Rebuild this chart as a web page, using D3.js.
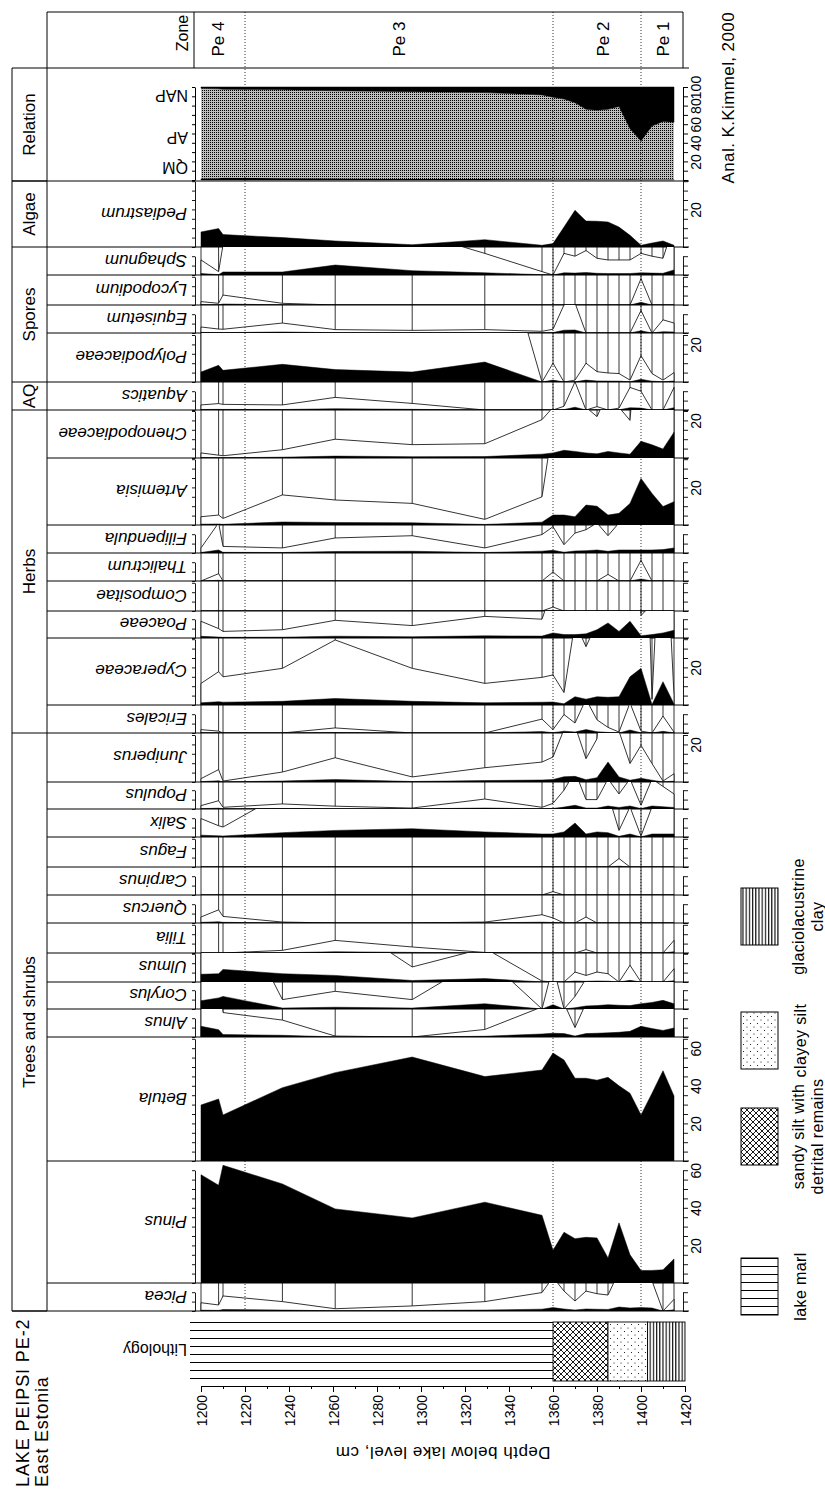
<!DOCTYPE html>
<html>
<head>
<meta charset="utf-8">
<script src="https://cdn.jsdelivr.net/npm/d3@7/dist/d3.min.js"></script>
<style>
  body { margin: 0; background: #fff; }
  text { font-family: "Liberation Sans", Arial, sans-serif; fill: #000; }
</style>
</head>
<body>
<div id="viz"></div>
<script>
var depths = [1200, 1208, 1210, 1237, 1261, 1296, 1329, 1355, 1360, 1365, 1370, 1375, 1380, 1385, 1390, 1395, 1400, 1405, 1410, 1415];

var relQM  = [1.5, 2, 2.5, 2, 1.5, 1, 1, 0.8, 0.6, 0.5, 0.5, 0.8, 0.5, 0.5, 0.5, 0.8, 0.5, 0.5, 0.5, 0.5],
    relAP  = [97.1, 96, 95, 95, 94.5, 94, 93, 90.7, 88.4, 86.5, 82.5, 75.2, 74.5, 75.5, 78.5, 54.2, 41.5, 57.5, 62.5, 61.5],
    relNAP = [1.4, 2, 2.5, 3, 4, 5, 6, 8.5, 11, 13, 17, 24, 25, 24, 21, 45, 58, 42, 37, 38];

var pediastrum     = [8, 9.8, 6.6, 5, 3.2, 1.2, 3.9, 0.9, 1.8, 10.6, 19.5, 13.8, 13.7, 13.3, 10.6, 6.2, 0.9, 2.1, 3.2, 0.9],
    sphagnum       = [0.8, 0.18, 1.6, 1.6, 5.3, 2.3, 1.15, 0.18, 0, 1.15, 1.0, 1.3, 0.89, 0.8, 0.8, 0.8, 1.15, 1.0, 0.89, 2.7],
    lycopodium     = [0.18, 0.09, 0.53, 0.09, 0, 0, 0, 0, 0, 0, 0, 0, 0, 0, 0, 0, 1.4, 0, 0, 0],
    equisetum      = [0.32, 0.21, 0.2, 0.53, 0.18, 0.14, 0.18, 0.09, 0.2, 1.5, 1.6, 0, 0, 0, 0, 0, 1.2, 0, 0.7, 0.53],
    polypodiaceae  = [5.3, 8.9, 6.2, 9.4, 6.6, 5.3, 10.6, 0, 1.0, 0, 0.1, 1.0, 0.55, 0.48, 0.45, 0.1, 1.4, 0.45, 0.1, 0.5],
    aquatics       = [0.27, 0.34, 0.3, 0.27, 0.67, 0.35, 0, 0, 0, 0.2, 1.5, 0, 0.18, 0, 0.1, 1.2, 1.0, 0, 0, 1.2],
    chenopodiaceae = [0.27, 0.15, 0.12, 0.44, 1.0, 0.71, 0.76, 2.04, 2.7, 4.1, 3.5, 2.7, 2.2, 3.5, 2.7, 2.0, 8.9, 7.0, 4.8, 13.7],
    artemisia      = [0.44, 0.53, 0.35, 1.6, 1.33, 1.15, 0.3, 1.5, 5.3, 5.3, 4.4, 10.6, 10.0, 5.3, 6.2, 11.5, 24.8, 16.8, 9.8, 12.4],
    filipendula    = [0.27, 1.6, 0.35, 0.27, 0.8, 0.92, 0.27, 0.98, 1.4, 0.44, 1.06, 1.24, 1.6, 0.92, 1.6, 1.6, 1.6, 1.6, 1.8, 2.7],
    thalictrum     = [0, 0.39, 0, 0, 0, 0, 0, 0, 0.48, 0, 0, 0, 0, 0.35, 0, 0, 1.1, 0, 0, 0],
    compositae     = [0, 0, 0, 0, 0, 0, 0, 0, 0.21, 0, 0, 0, 0, 0, 0, 0, 0, 0, 0, 0],
    poaceae        = [0.89, 0.5, 0.35, 0.44, 0.94, 0.66, 1.15, 1.0, 2.7, 1.8, 1.8, 2.2, 4.4, 8.0, 3.5, 8.9, 1.2, 1.8, 2.7, 4.1],
    cyperaceae     = [1.15, 1.77, 1.5, 1.95, 3.46, 1.95, 1.15, 1.47, 1.6, 0.66, 4.4, 3.1, 4.4, 4.1, 4.4, 15, 19.5, 0.3, 12.4, 0.5],
    ericales       = [0.18, 0.1, 0, 0, 0.27, 0, 0, 0.74, 0.18, 0.98, 0.53, 1.8, 0.7, 0.3, 0.05, 1.6, 0.1, 0, 0.9, 0.05],
    juniperus      = [0.18, 0.66, 0.05, 0.53, 1.29, 0.27, 0.76, 1.06, 1.33, 2.8, 3.0, 1.24, 2.3, 10.6, 2.7, 0.98, 1.95, 0.98, 0.05, 0.44],
    populus        = [0.18, 0.44, 0.09, 0.27, 0.15, 0.05, 0.53, 0.09, 0.3, 1.0, 2.0, 0.5, 0.5, 1.6, 0.8, 1.6, 0.2, 1.6, 1.2, 0.8],
    salix          = [0.98, 0.6, 0.53, 2.3, 3.5, 4.4, 2.7, 1.6, 1.6, 2.7, 7.4, 1.6, 2.7, 2.3, 0.35, 1.6, 0.05, 1.6, 1.6, 1.6],
    fagus          = [0, 0, 0, 0, 0, 0, 0, 0, 0, 0, 0, 0, 0, 0, 0.45, 0, 0, 0, 0, 0],
    carpinus       = [0, 0, 0, 0, 0, 0, 0, 0, 0.18, 0, 0, 0, 0, 0, 0, 0, 0, 0, 0, 0],
    quercus        = [0.32, 0.7, 0.35, 0.05, 0, 0, 0.05, 0.44, 0.27, 0, 0, 0.32, 0, 0, 0, 0, 0, 0, 0, 0],
    tilia          = [0, 0, 0, 0.14, 0.67, 0.32, 0.03, 0, 0, 0, 0, 0.18, 0, 0, 0, 0, 0, 0, 0, 0.67],
    ulmus          = [4.1, 4.4, 6.7, 4.4, 3.5, 0.8, 1.8, 0.05, 0, 0, 0.53, 0.35, 0.53, 0.44, 0, 0.89, 0, 0, 0, 0.7],
    corylus        = [4.4, 5.9, 6.7, 0.5, 0.94, 0.5, 2.8, 0, 2.3, 0, 0.67, 1.6, 1.8, 2.3, 2.0, 1.8, 2.8, 3.5, 4.6, 2.8],
    alnus          = [5.7, 3.9, 1.3, 0.9, 0.05, 0, 0.4, 1.6, 2.0, 1.8, 0.5, 1.8, 2.0, 2.2, 2.5, 3.0, 5.7, 4.5, 3.5, 4.8],
    betula         = [29.8, 33, 24.5, 39, 47, 55.3, 44.9, 48.4, 57.4, 53.7, 44, 44, 43, 44.5, 40, 36, 24.5, 36, 48, 34.6],
    pinus          = [57.6, 52, 62.6, 52.7, 39.4, 34.6, 43, 36, 17.4, 27, 23.6, 24.3, 24, 13.3, 32, 15, 6.6, 6.7, 7, 12.8],
    picea          = [0.44, 0.32, 0.8, 0.5, 0.12, 0.27, 0.5, 0.98, 1.8, 1.06, 0.53, 1.06, 0.92, 0.85, 2.1, 1.6, 1.8, 1.6, 0, 0.62];

var taxonNames = ['Pediastrum', 'Sphagnum', 'Lycopodium', 'Equisetum', 'Polypodiaceae', 'Aquatics',
                  'Chenopodiaceae', 'Artemisia', 'Filipendula', 'Thalictrum', 'Compositae', 'Poaceae',
                  'Cyperaceae', 'Ericales', 'Juniperus', 'Populus', 'Salix', 'Fagus', 'Carpinus', 'Quercus',
                  'Tilia', 'Ulmus', 'Corylus', 'Alnus', 'Betula', 'Pinus', 'Picea'];
var taxonValues = [pediastrum, sphagnum, lycopodium, equisetum, polypodiaceae, aquatics,
                   chenopodiaceae, artemisia, filipendula, thalictrum, compositae, poaceae,
                   cyperaceae, ericales, juniperus, populus, salix, fagus, carpinus, quercus,
                   tilia, ulmus, corylus, alnus, betula, pinus, picea];
var solidTaxa = ['Pediastrum', 'Betula', 'Pinus'];

var relationKeys = ['QM', 'AP', 'NAP'];
var groupNames = ['Relation', 'Algae', 'Spores', 'AQ', 'Herbs', 'Trees and shrubs'];
var zoneNames = ['Pe 4', 'Pe 3', 'Pe 2', 'Pe 1'];
var zoneLimits = [1198, 1220, 1360, 1400, 1420];
var zoneLabelAt = [1208, 1290, 1383, 1410];
var depthTicks = [1200, 1220, 1240, 1260, 1280, 1300, 1320, 1340, 1360, 1380, 1400, 1420];
var lithoTop = [1195, 1360, 1385, 1403],
    lithoBottom = [1360, 1385, 1403, 1420],
    lithoFill = ['marl', 'sand', 'silt', 'clay'];
var legendLabels = [['lake marl'], ['sandy silt with', 'detrital remains'], ['clayey silt'], ['glaciolacustrine', 'clay']];

// layout
var rowBase = [247, 275, 305, 333, 382, 410, 458, 525, 553, 581, 611, 638, 705, 733, 782, 809, 837, 867,
               895, 923, 953, 982, 1009, 1037, 1161, 1283, 1311];
var groupEnd = [181, 247, 382, 410, 733, 1311];
var legendTop = [1258, 1108, 1012, 888];
var pxPerPct = 1.88,
    axisLeftX = 195,
    axisRightX = 683;

var svg = d3.select('#viz').append('svg')
  .attr('width', 825)
  .attr('height', 1493);

var defs = svg.append('defs');

var stip = defs.append('pattern').attr('id', 'stip').attr('patternUnits', 'userSpaceOnUse')
  .attr('width', 2).attr('height', 2);
stip.append('rect').attr('width', 2).attr('height', 2).attr('fill', '#bdbdbd');
stip.append('rect').attr('width', 1).attr('height', 1).attr('fill', '#000');

var marl = defs.append('pattern').attr('id', 'marl').attr('patternUnits', 'userSpaceOnUse')
  .attr('width', 10).attr('height', 8).attr('y', 1322);
marl.append('rect').attr('width', 10).attr('height', 8).attr('fill', '#fff');
marl.append('line').attr('x1', 0).attr('x2', 10).attr('y1', 0.5).attr('y2', 0.5)
  .attr('stroke', '#000').attr('stroke-width', 1);

var sand = defs.append('pattern').attr('id', 'sand').attr('patternUnits', 'userSpaceOnUse')
  .attr('width', 6).attr('height', 6);
sand.append('rect').attr('width', 6).attr('height', 6).attr('fill', '#fff');
sand.append('path').attr('d', 'M0,3 L3,0 L6,3 L3,6 Z').attr('fill', 'none')
  .attr('stroke', '#000').attr('stroke-width', 0.9);

var silt = defs.append('pattern').attr('id', 'silt').attr('patternUnits', 'userSpaceOnUse')
  .attr('width', 7).attr('height', 7);
silt.append('rect').attr('width', 7).attr('height', 7).attr('fill', '#fff');
silt.append('circle').attr('cx', 1.5).attr('cy', 1.5).attr('r', 0.55).attr('fill', '#000');
silt.append('circle').attr('cx', 5).attr('cy', 5).attr('r', 0.55).attr('fill', '#000');

var clay = defs.append('pattern').attr('id', 'clay').attr('patternUnits', 'userSpaceOnUse')
  .attr('width', 3.2).attr('height', 10);
clay.append('rect').attr('width', 3.2).attr('height', 10).attr('fill', '#fff');
clay.append('line').attr('x1', 0.6).attr('x2', 0.6).attr('y1', 0).attr('y2', 10)
  .attr('stroke', '#000').attr('stroke-width', 1.1);

var x = d3.scaleLinear()
  .domain([1200, 1420])
  .range([201, 685]);

function hline(g, x1, x2, y) {
  g.append('line').attr('x1', x1).attr('x2', x2).attr('y1', y).attr('y2', y)
    .attr('stroke', '#000').attr('stroke-width', 1);
}
function vline(g, xx, y1, y2) {
  g.append('line').attr('x1', xx).attr('x2', xx).attr('y1', y1).attr('y2', y2)
    .attr('stroke', '#000').attr('stroke-width', 1);
}
function upText(g, xx, yy, txt, size, anchor) {
  return g.append('text')
    .attr('transform', 'translate(' + xx + ',' + yy + ') rotate(-90)')
    .style('font-size', size + 'px')
    .style('text-anchor', anchor || 'middle')
    .style('dominant-baseline', 'central')
    .text(txt);
}
function flipText(g, xx, yy, txt, size, italic) {
  return g.append('text')
    .attr('transform', 'translate(' + xx + ',' + yy + ') rotate(180)')
    .style('font-size', size + 'px')
    .style('font-style', italic ? 'italic' : 'normal')
    .style('dominant-baseline', 'central')
    .text(txt);
}
function styleRightLabels(sel) {
  sel.selectAll('text')
    .attr('x', null).attr('dy', null)
    .attr('transform', 'translate(13,0) rotate(-90)')
    .style('text-anchor', 'middle')
    .style('dominant-baseline', 'central')
    .style('font-size', '14px')
    .style('font-family', '"Liberation Sans", Arial, sans-serif');
}
function rowAxes(g, base, top, vmax, step, labelEvery) {
  var tickMax = Math.floor(vmax / step + 0.01) * step,
      ay = d3.scaleLinear().domain([0, tickMax]).range([base, base - (base - top) * tickMax / vmax]),
      ticks = d3.range(0, tickMax + 0.001, step);

  g.append('g').attr('transform', 'translate(' + axisLeftX + ',0)')
    .call(d3.axisLeft(ay).tickValues(ticks).tickSize(3).tickSizeOuter(0).tickFormat(''));

  var ra = g.append('g').attr('transform', 'translate(' + axisRightX + ',0)')
    .call(d3.axisRight(ay).tickValues(ticks).tickSize(5).tickSizeOuter(0)
      .tickFormat(function(d) { return d > 0 && d % labelEvery === 0 ? d : ''; }));
  styleRightLabels(ra);
  g.selectAll('.domain, .tick line').attr('stroke-width', 0.9);
}

// pollen rows
taxonNames.forEach(function(name, i) {
  var top = i === 0 ? 181 : rowBase[i - 1],
      base = rowBase[i],
      vmax = (base - top) / pxPerPct,
      y = d3.scaleLinear().domain([0, vmax]).range([base, top]),
      data = depths.map(function(d, j) { return { depth: d, v: taxonValues[i][j] }; }),
      row = svg.append('g');

  defs.append('clipPath').attr('id', 'clip' + i)
    .append('rect')
    .attr('x', x(1195)).attr('y', top)
    .attr('width', x(1420) - x(1195)).attr('height', base - top);

  var plot = row.append('g').attr('clip-path', 'url(#clip' + i + ')');

  if (solidTaxa.indexOf(name) < 0) {
    // sample lines, hidden below the x10 curve
    plot.selectAll('line.sample').data(data).enter().append('line')
      .attr('class', 'sample')
      .attr('x1', function(d) { return x(d.depth); })
      .attr('x2', function(d) { return x(d.depth); })
      .attr('y1', base).attr('y2', top)
      .attr('stroke', '#000').attr('stroke-width', 0.8);

    plot.append('path').datum(data)
      .attr('d', d3.area()
        .x(function(d) { return x(d.depth); })
        .y0(base)
        .y1(function(d) { return y(d.v * 10); }))
      .attr('fill', '#fff').attr('stroke', '#000').attr('stroke-width', 0.8);
  }

  plot.append('path').datum(data)
    .attr('d', d3.area()
      .x(function(d) { return x(d.depth); })
      .y0(base)
      .y1(function(d) { return y(d.v); }))
    .attr('fill', '#000').attr('stroke', '#000').attr('stroke-width', 0.5);

  hline(row, 47, 689, base);
  rowAxes(row, base, top, vmax, 5, 20);
  flipText(row, 187, (top + base) / 2 - 1, name, 17, true);
});

// relation
var relTop = 87, relBase = 180;
var relY = d3.scaleLinear().domain([0, 100]).range([relBase, relTop]);
var relTable = depths.map(function(d, j) {
  return { depth: d, QM: relQM[j], AP: relAP[j], NAP: relNAP[j] };
});
var relStack = d3.stack().keys(relationKeys)(relTable);
var relFill = { QM: '#000', AP: 'url(#stip)', NAP: '#000' };

var relG = svg.append('g');
relG.selectAll('path').data(relStack).enter().append('path')
  .attr('d', d3.area()
    .x(function(d) { return x(d.data.depth); })
    .y0(function(d) { return relY(d[0]); })
    .y1(function(d) { return relY(d[1]); }))
  .attr('fill', function(d) { return relFill[d.key]; })
  .attr('stroke', function(d) { return d.key === 'AP' ? 'none' : '#000'; })
  .attr('stroke-width', 0.5);
hline(relG, 12, 689, 181);
hline(relG, 12, 689, 68);

relG.append('g').attr('transform', 'translate(' + axisLeftX + ',0)')
  .call(d3.axisLeft(relY).ticks(10).tickSize(3).tickSizeOuter(0).tickFormat(''));
var relRA = relG.append('g').attr('transform', 'translate(' + axisRightX + ',0)')
  .call(d3.axisRight(relY).ticks(10).tickSize(5).tickSizeOuter(0)
    .tickFormat(function(d) { return d > 0 && d % 20 === 0 ? d : ''; }));
styleRightLabels(relRA);
[167, 137, 95].forEach(function(yy, i) {
  flipText(relG, 188, yy, relationKeys[i], 16, false);
});

// frame, strip and zone row
var frame = svg.append('g');
hline(frame, 47, 683, 12);
vline(frame, 47, 12, 1311);
vline(frame, 12, 68, 1311);
vline(frame, 194, 12, 68);
vline(frame, 683, 12, 68);
hline(frame, 12, 47, 1311);

groupNames.forEach(function(name, i) {
  var g0 = i === 0 ? 68 : groupEnd[i - 1],
      g1 = groupEnd[i];
  hline(frame, 12, 47, g1);
  upText(frame, 29.5, (g0 + g1) / 2, name, 17);
});

upText(frame, 182, 33, 'Zone', 16);
zoneNames.forEach(function(name, i) {
  upText(frame, x(zoneLabelAt[i]), 39, name, 17);
});

// zone boundaries
svg.selectAll('line.zone').data(zoneLimits.slice(1, 4)).enter().append('line')
  .attr('class', 'zone')
  .attr('x1', function(d) { return x(d); })
  .attr('x2', function(d) { return x(d); })
  .attr('y1', 12).attr('y2', 1311)
  .attr('stroke', '#000').attr('stroke-width', 0.8)
  .attr('stroke-dasharray', '1,2');

// lithology
var litho = svg.append('g');
litho.selectAll('rect').data(lithoFill).enter().append('rect')
  .attr('x', function(d, i) { return x(lithoTop[i]); })
  .attr('width', function(d, i) { return x(lithoBottom[i]) - x(lithoTop[i]); })
  .attr('y', 1322).attr('height', 59)
  .attr('fill', function(d) { return 'url(#' + d + ')'; })
  .attr('stroke', function(d) { return d === 'marl' ? 'none' : '#000'; })
  .attr('stroke-width', 0.9);
flipText(litho, 187, 1349, 'Lithology', 16, false);

// depth axis
var axisY = 1386;
svg.append('g').attr('transform', 'translate(0,' + axisY + ')')
  .call(d3.axisBottom(x).tickValues(d3.range(1200, 1421, 10)).tickSize(3).tickSizeOuter(0).tickFormat(''));
var majors = svg.append('g').attr('transform', 'translate(0,' + axisY + ')')
  .call(d3.axisBottom(x).tickValues(depthTicks).tickSize(6).tickSizeOuter(0).tickFormat(d3.format('d')));
majors.select('.domain').remove();
majors.selectAll('text')
  .attr('y', null).attr('dy', null)
  .attr('transform', 'translate(0,9) rotate(-90)')
  .style('text-anchor', 'end')
  .style('dominant-baseline', 'central')
  .style('font-size', '14px')
  .style('font-family', '"Liberation Sans", Arial, sans-serif');
flipText(svg, x(1310), 1452, 'Depth below lake level, cm', 17, false)
  .style('text-anchor', 'middle')
  .style('letter-spacing', '0.5px');

// legend
var legend = svg.append('g');
lithoFill.forEach(function(f, i) {
  legend.append('rect')
    .attr('x', 741).attr('y', legendTop[i])
    .attr('width', 37).attr('height', 57)
    .attr('fill', 'url(#' + f + ')')
    .attr('stroke', '#000').attr('stroke-width', 1);
  legendLabels[i].forEach(function(t, j) {
    var xx = legendLabels[i].length === 1 ? 800 : 798 + j * 19;
    upText(legend, xx, legendTop[i] + 28.5, t, 16).style('letter-spacing', '0.4px');
  });
});

// titles
upText(svg, 23, 1487, 'LAKE PEIPSI PE-2', 18, 'start').style('letter-spacing', '0.9px');
upText(svg, 42, 1487, 'East Estonia', 18, 'start').style('letter-spacing', '0.8px');
upText(svg, 728, 12, 'Anal. K.Kimmel, 2000', 17, 'end').style('letter-spacing', '0.4px');
</script>
</body>
</html>
